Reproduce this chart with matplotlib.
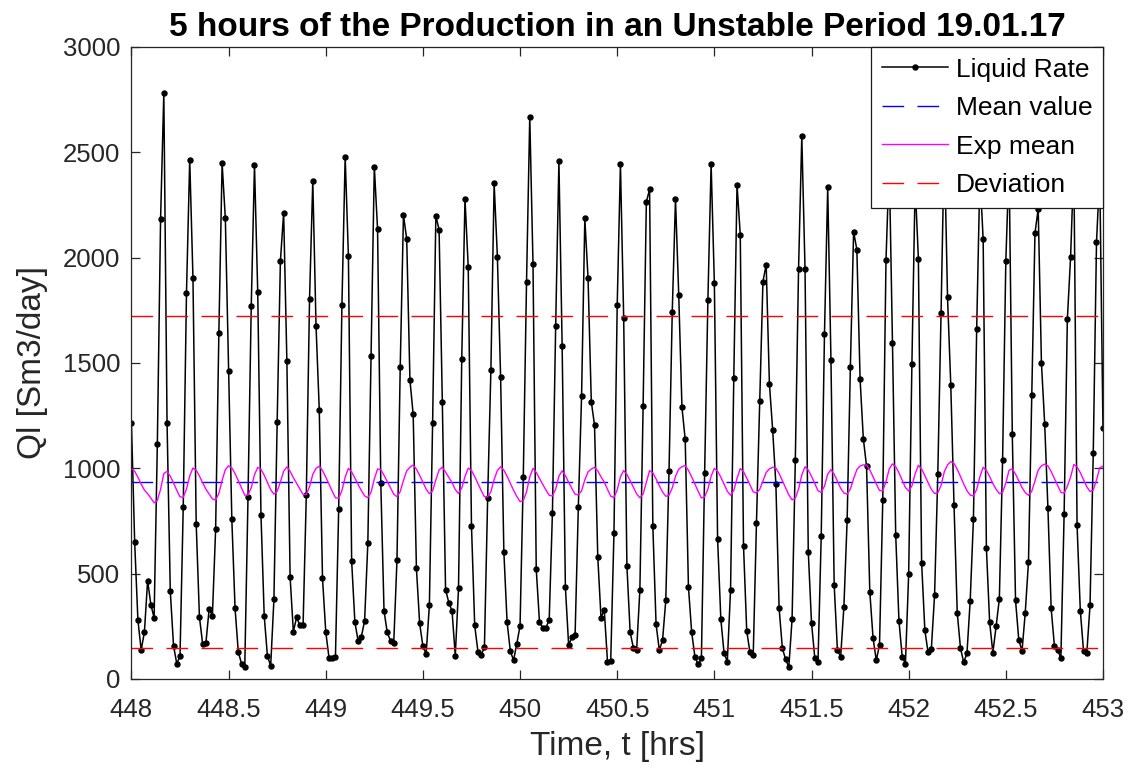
import matplotlib
matplotlib.use("Agg")
import matplotlib.pyplot as plt
import numpy as np

plt.rcParams['font.family'] = ['Liberation Sans', 'DejaVu Sans']
plt.rcParams['lines.scale_dashes'] = False

# Liquid rate, one sample a minute from 448 h to 453 h
T_START = 448.0
T_END = 453.0
LIQUID_RATE = [
    1216, 650, 280, 138, 221, 467, 353, 290, 1114, 2182,
    2781, 1216, 416, 158, 73, 108, 818, 1833, 2464, 1904,
    737, 294, 166, 171, 333, 300, 710, 1642, 2448, 2186,
    1462, 759, 335, 128, 73, 59, 865, 1772, 2440, 1837,
    780, 300, 108, 63, 378, 1220, 1983, 2213, 1508, 483,
    225, 292, 256, 254, 871, 1805, 2365, 1677, 1279, 479,
    225, 102, 99, 106, 808, 1776, 2479, 2008, 560, 270,
    181, 201, 276, 645, 1531, 2432, 2137, 930, 323, 221,
    181, 171, 566, 1482, 2202, 2089, 1419, 1256, 526, 264,
    156, 118, 349, 1216, 2198, 2133, 1315, 424, 363, 323,
    110, 430, 1520, 2280, 1955, 728, 254, 130, 115, 150,
    860, 1468, 2352, 2005, 1432, 604, 270, 132, 89, 168,
    252, 960, 1884, 2669, 1969, 522, 270, 244, 244, 280,
    790, 1677, 2458, 1581, 436, 162, 197, 211, 818, 1344,
    2186, 1902, 1317, 1204, 579, 290, 329, 83, 87, 694,
    1774, 2444, 1715, 536, 221, 148, 138, 422, 1295, 2265,
    2324, 727, 260, 138, 183, 373, 986, 1744, 2277, 1823,
    1289, 1137, 436, 221, 106, 69, 99, 980, 1797, 2444,
    1880, 664, 284, 122, 83, 422, 1429, 2345, 2109, 633,
    227, 126, 112, 739, 1321, 1886, 1967, 1401, 1183, 924,
    335, 146, 93, 57, 284, 1039, 1947, 2576, 1945, 605,
    266, 102, 79, 680, 1636, 2334, 1516, 447, 136, 106,
    343, 753, 1482, 2123, 2038, 1423, 1141, 1009, 414, 195,
    89, 162, 848, 1989, 2450, 1594, 684, 276, 106, 73,
    497, 1496, 2350, 1995, 552, 231, 126, 142, 398, 974,
    1738, 2550, 1811, 1397, 828, 315, 146, 79, 122, 372,
    760, 1660, 2400, 2087, 623, 270, 125, 250, 380, 1038,
    1983, 2450, 1161, 373, 187, 132, 315, 556, 1350, 2117,
    2231, 1498, 1212, 812, 335, 158, 138, 99, 782, 1707,
    2003, 2450, 729, 325, 132, 122, 349, 1072, 2073, 2400,
    1190,
]
MEAN_VALUE = 935
STD_VALUE = 790
EXP_START = 1000
EXP_ALPHA = 0.04

X_TICKS = np.arange(448, 453.01, 0.5)
Y_TICKS = np.arange(0, 3001, 500)

time = np.linspace(T_START, T_END, len(LIQUID_RATE))

# exponential mean of the liquid rate
exp_mean = [EXP_START]
for q in LIQUID_RATE[1:]:
    exp_mean.append(exp_mean[-1] + EXP_ALPHA * (q - exp_mean[-1]))

fig = plt.figure(figsize=(11.33, 7.76), dpi=100)
ax = fig.add_axes([0.116, 0.125, 0.8575, 0.8145])

dash = (0, (15.6, 9.6))
ax.plot(time, LIQUID_RATE, color='black', lw=1.1, marker='o', ms=3.6,
        label='Liquid Rate')
ax.axhline(MEAN_VALUE, color='#0000ff', lw=1.0, ls=dash, label='Mean value')
ax.plot(time, exp_mean, color='#ff00ff', lw=1.0, label='Exp mean')
ax.axhline(MEAN_VALUE + STD_VALUE, color='#ff0000', lw=1.0, ls=dash,
           label='Deviation')
ax.axhline(MEAN_VALUE - STD_VALUE, color='#ff0000', lw=1.0, ls=dash)

ax.set_xlim(T_START, T_END)
ax.set_ylim(0, 3000)
ax.set_xticks(X_TICKS)
ax.set_xticklabels([f"{v:g}" for v in X_TICKS])
ax.set_yticks(Y_TICKS)
ax.tick_params(direction='in', top=True, right=True, length=6.8, width=0.9,
               color='#262626', labelcolor='#262626', labelsize=18.5)
ax.tick_params(axis='x', pad=14)
ax.tick_params(axis='y', pad=8)
for s in ax.spines.values():
    s.set_color('#262626')
    s.set_linewidth(0.9)

ax.set_xlabel('Time, t [hrs]', fontsize=24, color='#262626', labelpad=6)
ax.set_ylabel('Ql [Sm3/day]', fontsize=24, color='#262626', labelpad=11)
ax.set_title('5 hours of the Production in an Unstable Period 19.01.17',
             fontsize=24, fontweight='bold', pad=8)

leg = ax.legend(loc='upper right', fontsize=19, borderaxespad=0,
                fancybox=False, framealpha=1, edgecolor='#1a1a1a',
                handlelength=2.5, handletextpad=0.3, labelspacing=0.55,
                borderpad=0.4)
leg.get_frame().set_linewidth(0.9)

fig.savefig('out.png', dpi=100)
